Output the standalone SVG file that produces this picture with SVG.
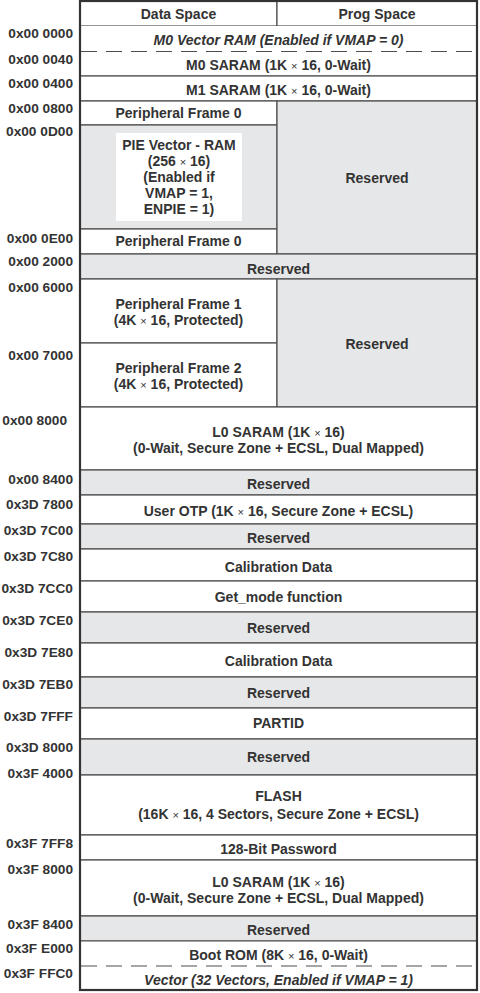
<svg xmlns="http://www.w3.org/2000/svg" width="480" height="993" viewBox="0 0 480 993">
<style>
.w{fill:#ffffff;stroke:#4d4d4d;stroke-width:1.2}
.g{fill:#e6e7e8;stroke:#4d4d4d;stroke-width:1.2}
.pie{fill:#ffffff;stroke:none}
.dash{stroke:#4d4d4d;stroke-width:1.2;stroke-dasharray:16 9;fill:none}
.frame{fill:none;stroke:#333333;stroke-width:2.2}
text{font-family:"Liberation Sans",Arial,sans-serif;font-weight:bold;fill:#333333}
.c{font-size:14px;text-anchor:middle}
.i{font-style:italic}
.a{font-size:13.7px;text-anchor:end}
.x{font-weight:normal;font-size:11px}
</style>
<rect width="480" height="993" fill="#ffffff"/>
<g id="header">
<rect class="w" x="80" y="1" width="197" height="25"/>
<rect class="w" x="277" y="1" width="200" height="25"/>
<text class="c" x="178.5" y="19">Data Space</text>
<text class="c" x="377" y="19">Prog Space</text>
</g>
<g id="m0vector">
<rect x="80" y="26" width="397" height="25.5" fill="#ffffff"/>
<text class="c i" x="278.5" y="45">M0 Vector RAM (Enabled if VMAP = 0)</text>
</g>
<g id="m0saram">
<rect x="80" y="51.5" width="397" height="24.5" fill="#ffffff"/>
<line x1="80" y1="76" x2="477" y2="76" stroke="#4d4d4d" stroke-width="1.2"/>
<text class="c" x="278.5" y="70">M0 SARAM (1K <tspan class="x">×</tspan> 16, 0-Wait)</text>
</g>
<g id="m1saram">
<rect class="w" x="80" y="76" width="397" height="25"/>
<text class="c" x="278.5" y="95">M1 SARAM (1K <tspan class="x">×</tspan> 16, 0-Wait)</text>
</g>
<g id="pf0a">
<rect class="w" x="80" y="101" width="197" height="24"/>
<text class="c" x="178.5" y="118">Peripheral Frame 0</text>
</g>
<g id="pievector">
<rect class="g" x="80" y="125" width="197" height="104"/>
<rect class="pie" x="116" y="133" width="126" height="88"/>
<text class="c" x="179" y="150">PIE Vector - RAM</text>
<text class="c" x="179" y="166">(256 <tspan class="x">×</tspan> 16)</text>
<text class="c" x="179" y="182">(Enabled if</text>
<text class="c" x="179" y="198">VMAP = 1,</text>
<text class="c" x="179" y="214">ENPIE = 1)</text>
</g>
<g id="pf0b">
<rect class="w" x="80" y="229" width="197" height="25"/>
<text class="c" x="178.5" y="246">Peripheral Frame 0</text>
</g>
<g id="reserved1">
<rect class="g" x="277" y="101" width="200" height="153"/>
<text class="c" x="377" y="183">Reserved</text>
</g>
<g id="reserved2">
<rect class="g" x="80" y="254" width="397" height="25"/>
<text class="c" x="278.5" y="274">Reserved</text>
</g>
<g id="pf1">
<rect class="w" x="80" y="279" width="197" height="64"/>
<text class="c" x="178.5" y="309">Peripheral Frame 1</text>
<text class="c" x="178.5" y="325">(4K <tspan class="x">×</tspan> 16, Protected)</text>
</g>
<g id="pf2">
<rect class="w" x="80" y="343" width="197" height="64"/>
<text class="c" x="178.5" y="373">Peripheral Frame 2</text>
<text class="c" x="178.5" y="389">(4K <tspan class="x">×</tspan> 16, Protected)</text>
</g>
<g id="reserved3">
<rect class="g" x="277" y="279" width="200" height="128"/>
<text class="c" x="377" y="349">Reserved</text>
</g>
<g id="l0saram1">
<rect class="w" x="80" y="407" width="397" height="63"/>
<text class="c" x="278.5" y="437">L0 SARAM (1K <tspan class="x">×</tspan> 16)</text>
<text class="c" x="278.5" y="453">(0-Wait, Secure Zone + ECSL, Dual Mapped)</text>
</g>
<g id="reserved4">
<rect class="g" x="80" y="470" width="397" height="25"/>
<text class="c" x="278.5" y="489">Reserved</text>
</g>
<g id="userotp">
<rect class="w" x="80" y="495" width="397" height="29"/>
<text class="c" x="278.5" y="516">User OTP (1K <tspan class="x">×</tspan> 16, Secure Zone + ECSL)</text>
</g>
<g id="reserved5">
<rect class="g" x="80" y="524" width="397" height="25"/>
<text class="c" x="278.5" y="543">Reserved</text>
</g>
<g id="caldata1">
<rect class="w" x="80" y="549" width="397" height="32"/>
<text class="c" x="278.5" y="572">Calibration Data</text>
</g>
<g id="getmode">
<rect class="w" x="80" y="581" width="397" height="31"/>
<text class="c" x="278.5" y="602">Get_mode function</text>
</g>
<g id="reserved6">
<rect class="g" x="80" y="612" width="397" height="31"/>
<text class="c" x="278.5" y="633">Reserved</text>
</g>
<g id="caldata2">
<rect class="w" x="80" y="643" width="397" height="34"/>
<text class="c" x="278.5" y="666">Calibration Data</text>
</g>
<g id="reserved7">
<rect class="g" x="80" y="677" width="397" height="31"/>
<text class="c" x="278.5" y="698">Reserved</text>
</g>
<g id="partid">
<rect class="w" x="80" y="708" width="397" height="31"/>
<text class="c" x="278.5" y="728">PARTID</text>
</g>
<g id="reserved8">
<rect class="g" x="80" y="739" width="397" height="36"/>
<text class="c" x="278.5" y="762">Reserved</text>
</g>
<g id="flash">
<rect class="w" x="80" y="775" width="397" height="60"/>
<text class="c" x="278.5" y="801">FLASH</text>
<text class="c" x="278.5" y="819">(16K <tspan class="x">×</tspan> 16, 4 Sectors, Secure Zone + ECSL)</text>
</g>
<g id="password">
<rect class="w" x="80" y="835" width="397" height="25"/>
<text class="c" x="278.5" y="854">128-Bit Password</text>
</g>
<g id="l0saram2">
<rect class="w" x="80" y="860" width="397" height="56"/>
<text class="c" x="278.5" y="887">L0 SARAM (1K <tspan class="x">×</tspan> 16)</text>
<text class="c" x="278.5" y="903">(0-Wait, Secure Zone + ECSL, Dual Mapped)</text>
</g>
<g id="reserved9">
<rect class="g" x="80" y="916" width="397" height="25"/>
<text class="c" x="278.5" y="935">Reserved</text>
</g>
<g id="bootrom">
<rect x="80" y="941" width="397" height="25" fill="#ffffff"/>
<line x1="80" y1="941" x2="477" y2="941" stroke="#4d4d4d" stroke-width="1.2"/>
<text class="c" x="278.5" y="960">Boot ROM (8K <tspan class="x">×</tspan> 16, 0-Wait)</text>
</g>
<g id="vector">
<text class="c i" x="278.5" y="985">Vector (32 Vectors, Enabled if VMAP = 1)</text>
</g>
<g id="connectors">
<line class="dash" x1="81" y1="51.5" x2="477" y2="51.5"/>
<line class="dash" x1="81" y1="966" x2="477" y2="966"/>
</g>
<g id="frame">
<rect class="frame" x="80" y="1" width="397" height="989"/>
</g>
<g id="addresses">
<text class="a" x="73" y="38">0x00 0000</text>
<text class="a" x="73" y="64">0x00 0040</text>
<text class="a" x="73" y="88">0x00 0400</text>
<text class="a" x="73" y="113">0x00 0800</text>
<text class="a" x="73" y="136">0x00 0D00</text>
<text class="a" x="73" y="243">0x00 0E00</text>
<text class="a" x="73" y="266">0x00 2000</text>
<text class="a" x="73" y="292">0x00 6000</text>
<text class="a" x="73" y="360">0x00 7000</text>
<text class="a" x="67" y="425">0x00 8000</text>
<text class="a" x="73" y="484">0x00 8400</text>
<text class="a" x="73" y="509">0x3D 7800</text>
<text class="a" x="73" y="535">0x3D 7C00</text>
<text class="a" x="73" y="561">0x3D 7C80</text>
<text class="a" x="73" y="593">0x3D 7CC0</text>
<text class="a" x="73" y="625">0x3D 7CE0</text>
<text class="a" x="73" y="657">0x3D 7E80</text>
<text class="a" x="73" y="689">0x3D 7EB0</text>
<text class="a" x="73" y="721">0x3D 7FFF</text>
<text class="a" x="73" y="752">0x3D 8000</text>
<text class="a" x="73" y="778">0x3F 4000</text>
<text class="a" x="73" y="848">0x3F 7FF8</text>
<text class="a" x="73" y="874">0x3F 8000</text>
<text class="a" x="73" y="929">0x3F 8400</text>
<text class="a" x="73" y="953">0x3F E000</text>
<text class="a" x="73" y="978">0x3F FFC0</text>
</g>
</svg>
